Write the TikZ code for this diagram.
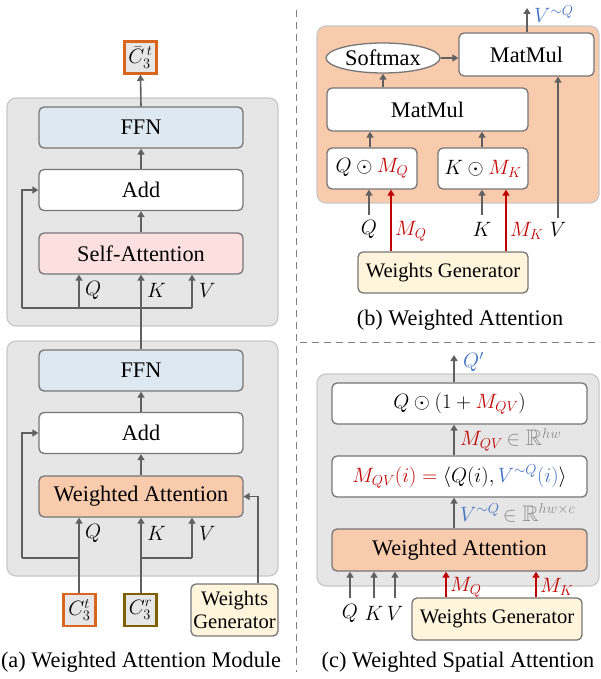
\documentclass[tikz,border=0pt]{standalone}
\usepackage{fontspec}
\setmainfont{Liberation Serif}
\usepackage{amssymb}
\usetikzlibrary{arrows.meta,shapes.geometric}
\definecolor{contfill}{HTML}{E6E6E6}
\definecolor{contline}{HTML}{C8C8C8}
\definecolor{boxline}{HTML}{767676}
\definecolor{ffnfill}{HTML}{DEE8F1}
\definecolor{safill}{HTML}{FCE0E0}
\definecolor{wafill}{HTML}{F8CBAD}
\definecolor{wgfill}{HTML}{FFF4DC}
\definecolor{arrgray}{HTML}{606060}
\definecolor{mred}{HTML}{C00000}
\definecolor{mblue}{HTML}{4472C4}
\definecolor{tgray}{HTML}{8C8C8C}
\definecolor{ctline}{HTML}{D9661F}
\definecolor{crline}{HTML}{7F6000}
\definecolor{dashgray}{HTML}{808080}
\begin{document}
\begin{tikzpicture}[x=1pt,y=-1pt,
  txt/.style={font=\fontsize{22.3}{25}\selectfont},
  wgt/.style={font=\fontsize{20.6}{23}\selectfont},
  box/.style={draw=boxline, line width=1.3pt, rounded corners=5pt, inner sep=0pt, txt, minimum width=204pt, minimum height=41pt},
  cont/.style={fill=contfill, draw=contline, line width=1.2pt, rounded corners=9pt},
  arr/.style={draw=arrgray, line width=1.6pt, -{Triangle[length=6pt,width=7pt]}},
  rarr/.style={draw=mred, line width=1.6pt, -{Triangle[length=6pt,width=7pt]}},
  ln/.style={draw=arrgray, line width=1.6pt},
  lbl/.style={font=\fontsize{22.5}{25}\selectfont, inner sep=1pt},
  cbox/.style={draw, line width=2.5pt, fill=contfill, minimum width=32pt, minimum height=32pt, inner sep=0pt, font=\fontsize{22}{24}\selectfont},
  sep/.style={draw=dashgray, line width=1pt, dash pattern=on 7pt off 5pt}
]
\useasboundingbox (0,0) rectangle (600,679);

% separators
\draw[sep] (296,10) -- (296,672);
\draw[sep] (300,342) -- (600,342);

% ================= (a) =================
\draw[cont] (7,98) rectangle (278,326);
\draw[cont] (7,341) rectangle (278,576);

\node[cbox, draw=ctline] (cbar) at (140.5,57.5) {${\bar{C}}_3^{\,t}$};

\node[box, fill=ffnfill] (ffn1) at (141,127.5) {FFN};
\node[box, fill=white] (add1) at (141,190) {Add};
\node[box, fill=safill] (sa) at (141,253.5) {Self-Attention};

\node[box, fill=ffnfill] (ffn2) at (141,370.5) {FFN};
\node[box, fill=white] (add2) at (141,433) {Add};
\node[box, fill=wafill] (wa) at (141,496.5) {Weighted Attention};

\node[cbox, draw=ctline] (ct) at (79.5,610) {$C_3^t$};
\node[cbox, draw=crline] (cr) at (140.5,610) {$C_3^r$};
\node[box, fill=wgfill, minimum width=87pt, minimum height=52pt, align=center, wgt] (wga) at (234.5,610) {Weights\\Generator};

% upper block connectors
\draw[arr] (ffn1.north) -- (cbar.south);
\draw[arr] (add1.north) -- (ffn1.south);
\draw[arr] (sa.north) -- (add1.south);
\draw[arr] (ffn2.north) -- (sa.south);
\coordinate (jl1) at (22,308);
\coordinate (jq1) at (79,308);
\coordinate (jv1) at (192,308);
\draw[ln] (jl1) -- (jv1);
\draw[arr] (jq1) -- (jq1 |- sa.south);
\draw[arr] (jv1) -- (jv1 |- sa.south);
\draw[arr] (jl1) |- (add1.west);
\node[lbl, anchor=west] (lq1) at (84,290) {$Q$};
\node[lbl, anchor=west] (lk1) at (146,290) {$K$};
\node[lbl, anchor=west] (lv1) at (198,290) {$V$};

% lower block connectors
\draw[arr] (add2.north) -- (ffn2.south);
\draw[arr] (wa.north) -- (add2.south);
\coordinate (jl2) at (22,558);
\coordinate (jq2) at (79,558);
\coordinate (jk2) at (141,558);
\coordinate (jv2) at (192,558);
\draw[arr] (ct.north -| jq2) -- (jq2 |- wa.south);
\draw[arr] (cr.north -| jk2) -- (jk2 |- wa.south);
\draw[ln] (jq2) -- (jl2);
\draw[arr] (jl2) |- (add2.west);
\draw[ln] (jk2) -- (jv2);
\draw[arr] (jv2) -- (jv2 |- wa.south);
\coordinate (jw) at (258,584);
\draw[arr] (jw |- wga.north) |- (wa.east);
\node[lbl, anchor=west] (lq2) at (84,533) {$Q$};
\node[lbl, anchor=west] (lk2) at (146,533) {$K$};
\node[lbl, anchor=west] (lv2) at (198,533) {$V$};

\node[txt] (capa) at (141,662) {(a) Weighted Attention Module};

% ================= (b) =================
\draw[fill=wafill, draw=contline, line width=1.2pt, rounded corners=9pt] (317,26) rectangle (599,203);
\node[draw=boxline, line width=1.3pt, ellipse, fill=white, minimum width=114pt, minimum height=30pt, inner sep=0pt, txt] (soft) at (383,58) {Softmax};
\node[box, fill=white, minimum width=135pt, minimum height=43pt] (mm2) at (526.5,54.5) {MatMul};
\node[box, fill=white, minimum width=201pt, minimum height=43pt] (mm1) at (427.5,109.5) {MatMul};
\node[box, fill=white, minimum width=90pt, lbl] (qm) at (372,168.5) {$Q\odot \textcolor{mred}{M_Q}$};
\node[box, fill=white, minimum width=90pt, lbl] (km) at (483,168.5) {$K\odot \textcolor{mred}{M_K}$};
\node[box, fill=wgfill, minimum width=170pt, wgt] (wgb) at (443,272.5) {Weights Generator};

\draw[arr] (soft.east) -- (soft.east -| mm2.west);
\coordinate (vout) at (527,8);
\draw[arr] (vout |- mm2.north) -- (vout);
\node[lbl, anchor=west, text=mblue] (lvq) at (533,14) {$V^{\sim Q}$};
\draw[arr] (mm1.north -| soft.south) -- (soft.south);
\coordinate (xq) at (370,131);
\coordinate (xk) at (482,131);
\draw[arr] (xq |- qm.north) -- (xq |- mm1.south);
\draw[arr] (xk |- km.north) -- (xk |- mm1.south);
\coordinate (vin) at (558,218);
\draw[arr] (vin) -- (vin |- mm2.south);
\node[lbl] (lvb) at (558,229) {$V$};
\coordinate (qin) at (369,215);
\draw[arr] (qin) -- (qin |- qm.south);
\node[lbl] (lqb) at (369,229) {$Q$};
\coordinate (kin) at (482,215);
\draw[arr] (kin) -- (kin |- km.south);
\node[lbl] (lkb) at (482,229) {$K$};
\coordinate (mqx) at (391,252);
\draw[rarr] (mqx |- wgb.north) -- (mqx |- qm.south);
\node[lbl, anchor=west, text=mred] (lmqb) at (394,231) {$M_Q$};
\coordinate (mkx) at (506,252);
\draw[rarr] (mkx |- wgb.north) -- (mkx |- km.south);
\node[lbl, anchor=west, text=mred] (lmkb) at (509,231) {$M_K$};

\node[txt] (capb) at (460,320) {(b) Weighted Attention};

% ================= (c) =================
\draw[cont] (317,374) rectangle (599,586);
\node[box, fill=white, minimum width=255pt, lbl] (topc) at (459.5,403.5) {$Q\odot(1+\textcolor{mred}{M_{QV}})$};
\node[box, fill=white, minimum width=255pt, lbl] (midc) at (459.5,476.5) {$\textcolor{mred}{M_{QV}(i)} \mathrel{\textcolor{mred}{=}} \langle Q(i), \textcolor{mblue}{V^{\sim Q}(i)}\rangle$};
\node[box, fill=wafill, minimum width=255pt, minimum height=42pt] (wac) at (459.5,550) {Weighted Attention};
\node[box, fill=wgfill, minimum width=170pt, minimum height=42pt, wgt] (wgc) at (497,619) {Weights Generator};

\coordinate (cx) at (454,355);
\draw[arr] (cx |- topc.north) -- (cx);
\node[lbl, anchor=west, text=mblue] (lqp) at (462,362) {$Q'$};
\draw[arr] (cx |- midc.north) -- (cx |- topc.south);
\node[lbl, anchor=west] (lmqv) at (459,440) {$\textcolor{mred}{M_{QV}}\textcolor{tgray}{\,\in\mathbb{R}^{hw}}$};
\draw[arr] (cx |- wac.north) -- (cx |- midc.south);
\node[lbl, anchor=west] (lvqc) at (459,513) {$\textcolor{mblue}{V^{\sim Q}}\textcolor{tgray}{\,\in\mathbb{R}^{hw\times c}}$};

\coordinate (cq) at (350,598);
\coordinate (ck) at (374,598);
\coordinate (cv) at (395,598);
\draw[arr] (cq) -- (cq |- wac.south);
\draw[arr] (ck) -- (ck |- wac.south);
\draw[arr] (cv) -- (cv |- wac.south);
\node[lbl] (lqc) at (350,613) {$Q$};
\node[lbl] (lkc) at (374,613) {$K$};
\node[lbl] (lvc) at (395,613) {$V$};
\coordinate (cmq) at (446,598);
\coordinate (cmk) at (536,598);
\draw[rarr] (cmq |- wgc.north) -- (cmq |- wac.south);
\draw[rarr] (cmk |- wgc.north) -- (cmk |- wac.south);
\node[lbl, anchor=west, text=mred] (lmqc) at (449,587) {$M_Q$};
\node[lbl, anchor=west, text=mred] (lmkc) at (539,587) {$M_K$};

\node[txt] (capc) at (458,662) {(c) Weighted Spatial Attention};
\end{tikzpicture}
\end{document}
